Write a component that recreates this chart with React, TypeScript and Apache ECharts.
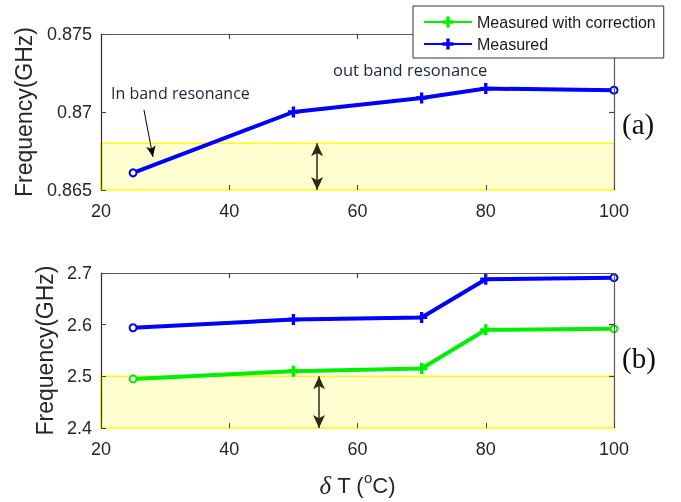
import React, { useEffect, useRef } from "react";
import * as echarts from "echarts";

const xValues = [25, 50, 70, 80, 100];
const measuredA = [0.8661, 0.87, 0.8709, 0.8715, 0.8714];
const measuredB = [2.594, 2.61, 2.614, 2.688, 2.691];
const correctedB = [2.495, 2.51, 2.515, 2.59, 2.592];
const bandA = [0.865, 0.868];
const bandB = [2.4, 2.5];
const bandX = [20, 100];
const arrowXA = 53.7;
const arrowXB = 54.0;
const annotArrowA = [[26.7, 0.87013], [28.1, 0.86712]];
const xTickValues = [20, 40, 60, 80, 100];
const yTickValuesA = [0.865, 0.87, 0.875];
const yTickValuesB = [2.4, 2.5, 2.6, 2.7];

const FONT = "'Liberation Sans', Arial, sans-serif";
const PLUS = "path://M3.5,0H6.5V3.5H10V6.5H6.5V10H3.5V6.5H0V3.5H3.5Z";
const BLUE = "#0000ff";
const GREEN = "#00ee00";
const GRID_W = 513;

function pts(ys: number[], color: string) {
  return xValues.map((x, i) => {
    const end = i === 0 || i === xValues.length - 1;
    return end
      ? {
          value: [x, ys[i]],
          symbol: "emptyCircle",
          symbolSize: 7,
          itemStyle: { color, borderColor: color, borderWidth: 3 },
        }
      : { value: [x, ys[i]] };
  });
}

export default function App() {
  const ref = useRef<HTMLDivElement>(null);
  useEffect(() => {
    const chart = echarts.init(ref.current!, null, { renderer: "svg" });
    const axisLabel = { fontFamily: FONT, fontSize: 18, color: "#262626" };
    const xMin = xTickValues[0];
    const xMax = xTickValues[xTickValues.length - 1];
    const mkX = (gi: number, withName: boolean) => [
      {
        type: "value",
        gridIndex: gi,
        min: xMin,
        max: xMax,
        interval: xTickValues[1] - xTickValues[0],
        position: "bottom",
        z: 20,
        axisLine: { show: false },
        axisTick: { show: true, inside: true, length: 5, lineStyle: { color: "#444", width: 1 } },
        axisLabel: { ...axisLabel, margin: 12 },
        splitLine: { show: false },
        name: withName ? "{d|δ}{t| T (}{s|o}{t|C)}" : "",
        nameLocation: "middle",
        nameGap: 42,
        nameTextStyle: {
          rich: {
            d: { fontFamily: "'Liberation Serif', serif", fontStyle: "italic", fontSize: 25, color: "#262626", lineHeight: 30 },
            t: { fontFamily: FONT, fontSize: 22, color: "#262626", lineHeight: 30 },
            s: { fontFamily: FONT, fontSize: 15, color: "#262626", verticalAlign: "top", lineHeight: 15 },
          },
        },
      },
    ];
    const mkY = (gi: number, t: number[], gap: number) => [
      {
        type: "value",
        gridIndex: gi,
        min: t[0],
        max: t[t.length - 1],
        interval: t[1] - t[0],
        position: "left",
        z: 20,
        axisLine: { show: true, onZero: false, lineStyle: { color: "#2a2a2a", width: 1 } },
        axisTick: { show: true, inside: true, length: 5, lineStyle: { color: "#444", width: 1 } },
        axisLabel: { ...axisLabel, margin: 9 },
        splitLine: { show: false },
        name: "Frequency(GHz)",
        nameLocation: "middle",
        nameRotate: 90,
        nameGap: gap,
        nameTextStyle: { fontFamily: FONT, fontSize: 23, color: "#262626" },
      },
    ];
    const frame = (gi: number, yT: number[], hPx: number) => {
      const yMin = yT[0];
      const yMax = yT[yT.length - 1];
      const px = (xMax - xMin) / GRID_W;
      const py = (yMax - yMin) / hPx;
      const seg = (a: number[], b: number[], color: string) => [
        { coord: a, lineStyle: { color, width: 1.2, type: "solid" } },
        { coord: b, lineStyle: { color, width: 1.2, type: "solid" } },
      ];
      const data: any[] = [
        seg([xMin, yMin], [xMin, yMax], "#2a2a2a"),
        seg([xMin, yMax], [xMax, yMax], "#5a5a5a"),
        seg([xMax, yMin], [xMax, yMax], "#5a5a5a"),
      ];
      xTickValues.slice(1, -1).forEach((x) => {
        data.push(seg([x, yMax], [x, yMax - 5 * py], "#444"));
      });
      yT.slice(1, -1).forEach((y) => {
        data.push(seg([xMax, y], [xMax - 5 * px, y], "#444"));
      });
      return {
        type: "line",
        name: "frame" + gi,
        xAxisIndex: gi,
        yAxisIndex: gi,
        data: [],
        z: 20,
        silent: true,
        markLine: {
          silent: true,
          symbol: ["none", "none"],
          label: { show: false },
          lineStyle: { color: "#444", width: 1.2, type: "solid" },
          data,
        },
      };
    };
    const band = (gi: number, b: number[], ax: number, extra: any[]) => ({
      type: "line",
      name: "band" + gi,
      xAxisIndex: gi,
      yAxisIndex: gi,
      data: [],
      z: 1,
      silent: true,
      markArea: {
        silent: true,
        label: { show: false },
        itemStyle: { color: "#ffffd2", borderColor: "#ffff00", borderWidth: 1.5 },
        data: [[{ coord: [bandX[0], b[0]] }, { coord: [bandX[1], b[1]] }]],
      },
      markLine: {
        silent: true,
        label: { show: false },
        symbol: ["arrow", "arrow"],
        symbolSize: [9, 13],
        lineStyle: { color: "#2b2b10", width: 1.5, type: "solid" },
        data: [
          [
            { coord: [ax, b[1]] },
            { coord: [ax, b[0]] },
          ],
          ...extra,
        ],
      },
    });
    const line = (name: string, gi: number, ys: number[], color: string) => ({
      type: "line",
      name,
      xAxisIndex: gi,
      yAxisIndex: gi,
      data: pts(ys, color),
      z: 3,
      symbol: PLUS,
      symbolSize: 11,
      showAllSymbol: true,
      lineStyle: { color, width: 4 },
      itemStyle: { color },
    });
    chart.setOption({
      animation: false,
      grid: [
        { left: 101, right: 67, top: 34, height: 156 },
        { left: 101, right: 67, top: 273, height: 155 },
      ],
      xAxis: [...mkX(0, false), ...mkX(1, true)],
      yAxis: [...mkY(0, yTickValuesA, 66), ...mkY(1, yTickValuesB, 44)],
      legend: {
        data: ["Measured with correction", "Measured"],
        orient: "vertical",
        left: 413,
        top: 6,
        padding: [8, 8, 6, 10],
        itemGap: 6,
        itemWidth: 48,
        itemHeight: 14,
        backgroundColor: "#fff",
        borderColor: "#333",
        borderWidth: 1,
        borderRadius: 0,
        textStyle: { fontFamily: FONT, fontSize: 16, color: "#1a1a1a" },
        z: 30,
      },
      series: [
        band(0, bandA, arrowXA, [
          [
            { coord: annotArrowA[0], symbol: "none", lineStyle: { color: "#000", width: 1 } },
            { coord: annotArrowA[1], symbol: "arrow", symbolSize: [7, 11], lineStyle: { color: "#000", width: 1 } },
          ],
        ]),
        band(1, bandB, arrowXB, []),
        frame(0, yTickValuesA, 156),
        frame(1, yTickValuesB, 155),
        line("Measured", 0, measuredA, BLUE),
        line("Measured with correction", 1, correctedB, GREEN),
        line("Measured", 1, measuredB, BLUE),
      ],
      graphic: [
        { type: "text", left: 111, top: 85, style: { text: "In band resonance", font: "16px 'Open Sans', sans-serif", fill: "#1c2440" } },
        { type: "text", left: 333, top: 61, style: { text: "out band resonance", font: "16.5px 'Open Sans', sans-serif", fill: "#1c2440" } },
        { type: "text", left: 358, top: 153, style: { text: "ESTI band", font: "23px " + FONT, fill: "#333322" } },
        { type: "text", left: 358, top: 390, style: { text: "ISM band", font: "23px " + FONT, fill: "#333322" } },
        { type: "text", left: 622, top: 109, style: { text: "(a)", font: "29px 'Liberation Serif', serif", fill: "#111" } },
        { type: "text", left: 622, top: 343, style: { text: "(b)", font: "29px 'Liberation Serif', serif", fill: "#111" } },
      ],
    });
    return () => chart.dispose();
  }, []);
  return <div ref={ref} style={{ position: "fixed", left: 0, top: 0, width: 681, height: 502 }} />;
}
